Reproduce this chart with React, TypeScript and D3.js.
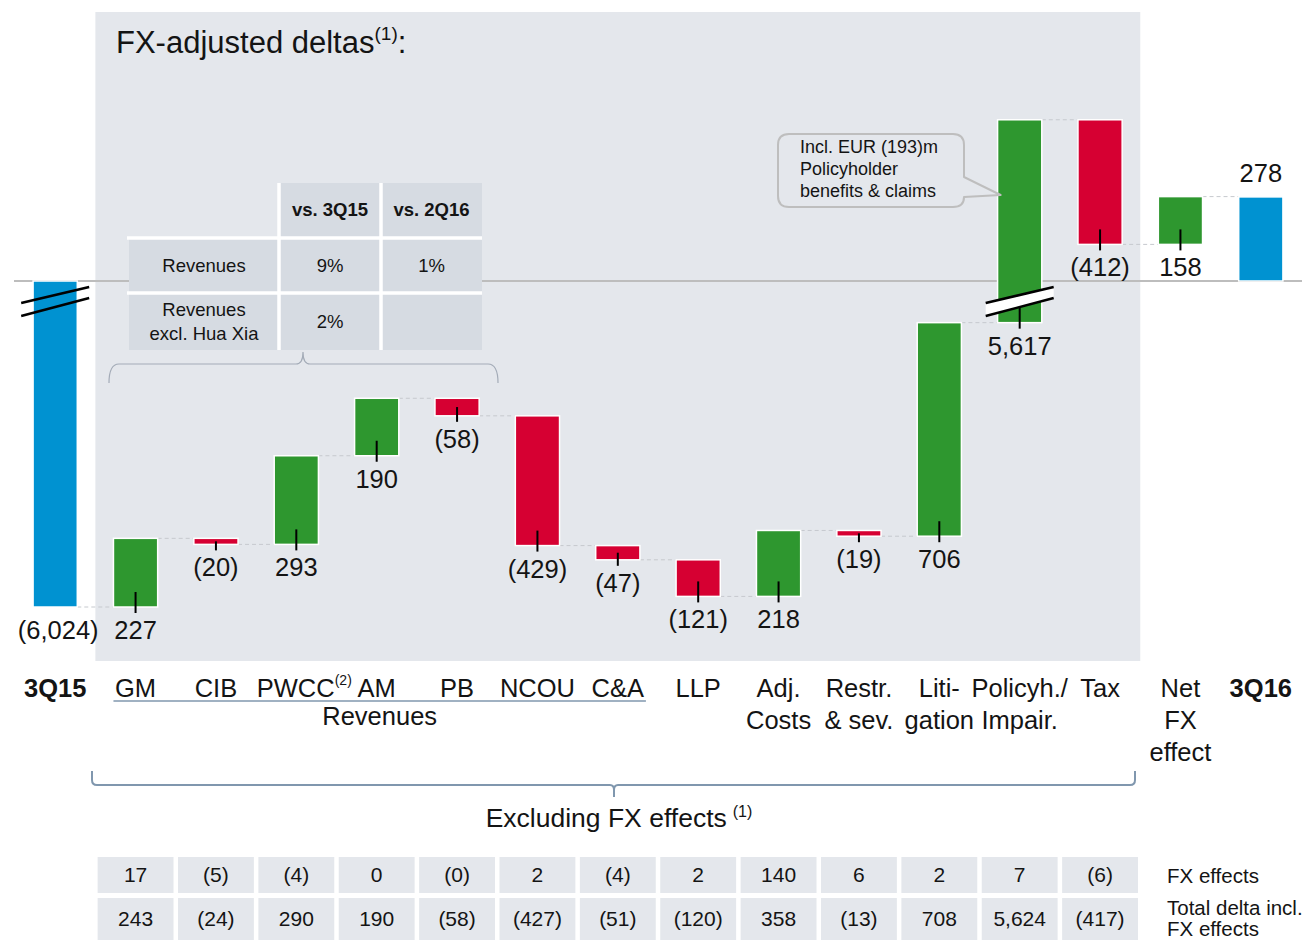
import React from "react";
import * as d3 from "d3";

// ---------- data ----------
const categories = [
  "3Q15", "GM", "CIB", "PWCC", "AM", "PB", "NCOU", "C&A", "LLP",
  "Adj. Costs", "Restr. & sev.", "Litigation", "Policyh./Impair.", "Tax", "Net FX effect", "3Q16",
];
const categoryLines: string[][] = [
  ["3Q15"], ["GM"], ["CIB"], ["PWCC"], ["AM"], ["PB"], ["NCOU"], ["C&A"], ["LLP"],
  ["Adj.", "Costs"], ["Restr.", "& sev."], ["Liti-", "gation"], ["Policyh./", "Impair."], ["Tax"],
  ["Net", "FX", "effect"], ["3Q16"],
];
const boldCategories = ["3Q15", "3Q16"];
const startValue = -6024;
const endValue = 278;
const deltas = [227, -20, 293, 190, -58, -429, -47, -121, 218, -19, 706, 5617, -412, 158];
const brokenBars = ["3Q15", "Policyh./Impair."];
const revenueCategories = ["GM", "CIB", "PWCC", "AM", "PB", "NCOU", "C&A"];

const fxEffects = [17, -5, -4, 0, -0, 2, -4, 2, 140, 6, 2, 7, -6];
const totalDeltas = [243, -24, 290, 190, -58, -427, -51, -120, 358, -13, 708, 5624, -417];
const bottomRowLabels = [["FX effects"], ["Total delta incl.", "FX effects"]];

const revHeader = ["vs. 3Q15", "vs. 2Q16"];
const revRowLabels = [["Revenues"], ["Revenues", "excl. Hua Xia"]];
const revRowValues = [["9%", "1%"], ["2%", ""]];
const calloutLines = ["Incl. EUR (193)m", "Policyholder", "benefits & claims"];

// ---------- style ----------
const FONT = "'Liberation Sans', Arial, Helvetica, sans-serif";
const C_BLUE = "#0092D1";
const C_GREEN = "#2E972F";
const C_RED = "#D60032";
const C_PANEL = "#E4E7EC";
const C_CELL = "#D6DBE2";
const C_TEXT = "#141414";
const C_SLATE = "#8097AE";

const fmt = (v: number) => {
  const s = d3.format(",")(Math.abs(v));
  return v < 0 || Object.is(v, -0) ? `(${s})` : s;
};

type Step = { cat: string; from: number; to: number; kind: "total" | "up" | "down" };

export default function App() {
  const W = 1310;
  const H = 941;

  const x = d3.scalePoint<string>().domain(categories).range([15, 1301]).padding(0.5);
  const step = x.step();
  const barW = step * 0.55;

  const k = 0.3025; // px per EUR m
  const zeroY = 281;
  const yUpper = d3.scaleLinear().domain([0, 1000]).range([zeroY, zeroY - 1000 * k]);
  const yLower = d3.scaleLinear().domain([startValue, startValue + 1000]).range([607, 607 - 1000 * k]);
  const y = (v: number) => (v < -3000 ? yLower(v) : yUpper(v));

  const steps: Step[] = [];
  let cum = startValue;
  steps.push({ cat: categories[0], from: 0, to: startValue, kind: "total" });
  deltas.forEach((d, i) => {
    steps.push({ cat: categories[i + 1], from: cum, to: cum + d, kind: d >= 0 ? "up" : "down" });
    cum += d;
  });
  steps.push({ cat: categories[categories.length - 1], from: 0, to: endValue, kind: "total" });

  const colorOf = (s: Step) => (s.kind === "total" ? C_BLUE : s.kind === "up" ? C_GREEN : C_RED);

  const panelX0 = (x("GM") as number) - step / 2;
  const panelX1 = (x("Tax") as number) + step / 2;

  // table layout (revenues)
  const tX = [129, 279, 381, 482];
  const tY = [183, 238, 293, 350];

  // bottom table
  const bCats = categories.slice(1, 14);
  const cellW = step - 4.5;
  const bRows = [
    { y0: 857, y1: 893, vals: fxEffects },
    { y0: 898, y1: 940, vals: totalDeltas },
  ];

  const revStart = (x(revenueCategories[0]) as number) - barW / 2;
  const revEnd = (x(revenueCategories[revenueCategories.length - 1]) as number) + barW / 2 + 6;
  const revMid = (revStart + revEnd) / 2;

  // callout geometry
  const pol = x("Policyh./Impair.") as number;
  const cb = { x0: 778, y0: 134, x1: 964, y1: 207, r: 11 };
  const tip = { x: pol - barW / 2 + 3, y: 195 };
  const calloutPath = [
    `M${cb.x0 + cb.r},${cb.y0}`,
    `L${cb.x1 - cb.r},${cb.y0}`,
    `Q${cb.x1},${cb.y0} ${cb.x1},${cb.y0 + cb.r}`,
    `L${cb.x1},177`,
    `L${tip.x},${tip.y}`,
    `L${cb.x1},197`,
    `L${cb.x1},${cb.y1 - cb.r + 1}`,
    `Q${cb.x1},${cb.y1} ${cb.x1 - cb.r},${cb.y1}`,
    `L${cb.x0 + cb.r},${cb.y1}`,
    `Q${cb.x0},${cb.y1} ${cb.x0},${cb.y1 - cb.r}`,
    `L${cb.x0},${cb.y0 + cb.r}`,
    `Q${cb.x0},${cb.y0} ${cb.x0 + cb.r},${cb.y0}`,
    "Z",
  ].join(" ");

  const bx0 = 92, bx1 = 1135, bMid = 614, bY = 785;
  const bigBracket = `M${bx0},771 L${bx0},${bY - 5} Q${bx0},${bY} ${bx0 + 5},${bY} L${bMid - 4},${bY} Q${bMid},${bY} ${bMid},${bY + 5} L${bMid},797 M${bMid},${bY + 5} Q${bMid},${bY} ${bMid + 4},${bY} L${bx1 - 5},${bY} Q${bx1},${bY} ${bx1},${bY - 5} L${bx1},771`;
  const smallBracket = `M109,383 Q109,364 119,364 L296,364 Q303,364 303,352 Q303,364 310,364 L488,364 Q498,364 498,383`;

  return (
    <svg
      width={W}
      height={H}
      viewBox={`0 0 ${W} ${H}`}
      style={{ position: "absolute", left: 0, top: 0, display: "block", background: "#fff" }}
      fontFamily={FONT}
    >
      {/* panel */}
      <rect x={panelX0} y={12} width={panelX1 - panelX0} height={649} fill={C_PANEL} />

      {/* title */}
      <text x={116} y={53} fontSize={31} fill={C_TEXT}>
        FX-adjusted deltas
        <tspan fontSize={19} dy={-13}>(1)</tspan>
        <tspan fontSize={31} dy={13}>:</tspan>
      </text>

      {/* zero line */}
      <line x1={14} x2={1302} y1={zeroY} y2={zeroY} stroke="#BDBDBD" strokeWidth={2} />

      {/* revenues table */}
      <g>
        {[0, 1, 2].map((r) =>
          [0, 1, 2].map((c) =>
            r === 0 && c === 0 ? null : (
              <rect
                key={`c${r}${c}`}
                x={tX[c]}
                y={tY[r]}
                width={tX[c + 1] - tX[c]}
                height={tY[r + 1] - tY[r]}
                fill={C_CELL}
              />
            )
          )
        )}
        <line x1={127} x2={tX[3]} y1={tY[1]} y2={tY[1]} stroke="#fff" strokeWidth={3.5} />
        <line x1={127} x2={tX[3]} y1={tY[2]} y2={tY[2]} stroke="#fff" strokeWidth={3.5} />
        <line x1={tX[1]} x2={tX[1]} y1={tY[0]} y2={tY[3]} stroke="#fff" strokeWidth={3.5} />
        <line x1={tX[2]} x2={tX[2]} y1={tY[0]} y2={tY[3]} stroke="#fff" strokeWidth={3.5} />
        {revHeader.map((h, i) => (
          <text key={h} x={(tX[i + 1] + tX[i + 2]) / 2} y={216} textAnchor="middle" fontSize={18.5} fontWeight="bold" fill={C_TEXT}>
            {h}
          </text>
        ))}
        {revRowLabels.map((lines, r) => {
          const cy = (tY[r + 1] + tY[r + 2]) / 2;
          return (
            <g key={`rl${r}`}>
              {lines.map((l, j) => (
                <text
                  key={l}
                  x={(tX[0] + tX[1]) / 2}
                  y={cy + 6 + (j - (lines.length - 1) / 2) * 24}
                  textAnchor="middle"
                  fontSize={18.5}
                  fill={C_TEXT}
                >
                  {l}
                </text>
              ))}
              {revRowValues[r].map((v, c) => (
                <text key={`v${c}`} x={(tX[c + 1] + tX[c + 2]) / 2} y={cy + 6} textAnchor="middle" fontSize={18.5} fill={C_TEXT}>
                  {v}
                </text>
              ))}
            </g>
          );
        })}
        <path d={smallBracket} fill="none" stroke="#A3ABB7" strokeWidth={1.2} />
      </g>

      {/* connectors */}
      {steps.slice(0, -1).map((s, i) => {
        const xa = (x(s.cat) as number) + barW / 2;
        const xb = (x(steps[i + 1].cat) as number) - barW / 2;
        const yy = y(s.to);
        return (
          <line key={`con${i}`} x1={xa} x2={xb} y1={yy} y2={yy} stroke="#C6C9CE" strokeWidth={1} strokeDasharray="4 3" />
        );
      })}

      {/* bars */}
      {steps.map((s) => {
        const cx = x(s.cat) as number;
        const ya = y(s.from);
        const yb = y(s.to);
        return (
          <rect
            key={`bar-${s.cat}`}
            x={cx - barW / 2}
            y={Math.min(ya, yb)}
            width={barW}
            height={Math.abs(yb - ya)}
            fill={colorOf(s)}
            stroke="#fff"
            strokeWidth={1.5}
          />
        );
      })}

      {/* axis breaks */}
      {brokenBars.map((cat, i) => {
        const cx = x(cat) as number;
        const xl = cx - 34;
        const xr = cx + 34;
        const y0 = y(0);
        return (
          <g key={`brk${cat}`}>
            {i === 1 && (
              <polygon
                points={`${xl},${y0 + 22} ${xr},${y0 + 6} ${xr},${y0 + 17} ${xl},${y0 + 35}`}
                fill="#fff"
              />
            )}
            <line x1={xl} y1={y0 + 22} x2={xr} y2={y0 + 6} stroke="#000" strokeWidth={2.5} />
            <line x1={xl} y1={y0 + 35} x2={xr} y2={y0 + 17} stroke="#000" strokeWidth={2.5} />
          </g>
        );
      })}

      {/* value ticks and labels */}
      {steps.map((s, i) => {
        const cx = x(s.cat) as number;
        const ya = y(s.from);
        const yb = y(s.to);
        const top = Math.min(ya, yb);
        const lower = Math.max(ya, yb);
        const value = s.kind === "total" ? s.to : s.to - s.from;
        if (i === steps.length - 1) {
          return (
            <text key={`lab${i}`} x={cx} y={top - 15} textAnchor="middle" fontSize={25.5} fill={C_TEXT}>
              {fmt(value)}
            </text>
          );
        }
        return (
          <g key={`lab${i}`}>
            {s.kind !== "total" && (
              <line
                x1={cx}
                x2={cx}
                y1={Math.max(lower - 15, (top + lower) / 2)}
                y2={lower + 6}
                stroke="#000"
                strokeWidth={2}
              />
            )}
            <text x={cx + (s.kind === "total" ? 3 : 0)} y={lower + 32} textAnchor="middle" fontSize={25.5} fill={C_TEXT}>
              {fmt(value)}
            </text>
          </g>
        );
      })}

      {/* callout */}
      <path d={calloutPath} fill={C_PANEL} stroke="#BEBEBE" strokeWidth={2} strokeLinejoin="round" />
      {calloutLines.map((l, j) => (
        <text key={l} x={800} y={153 + j * 22} fontSize={18} fill={C_TEXT}>
          {l}
        </text>
      ))}

      {/* category labels */}
      {categories.map((c, i) => {
        const cx = x(c) as number;
        const lines = categoryLines[i];
        const bold = boldCategories.includes(c);
        return (
          <g key={`cat${c}`}>
            {lines.map((l, j) => (
              <text
                key={l}
                x={c === "PWCC" ? cx + 8 : cx}
                y={697 + j * 32}
                textAnchor="middle"
                fontSize={25.5}
                fontWeight={bold ? "bold" : "normal"}
                fill={C_TEXT}
              >
                {l}
                {c === "PWCC" && (
                  <tspan fontSize={14} dy={-12}>
                    (2)
                  </tspan>
                )}
              </text>
            ))}
          </g>
        );
      })}

      {/* revenues underline */}
      <line x1={revStart} x2={revEnd} y1={701} y2={701} stroke={C_SLATE} strokeWidth={1.5} />
      <text x={revMid} y={725} textAnchor="middle" fontSize={25.5} fill={C_TEXT}>
        Revenues
      </text>

      {/* excluding FX bracket */}
      <path d={bigBracket} fill="none" stroke={C_SLATE} strokeWidth={2} />
      <text x={619} y={827} textAnchor="middle" fontSize={26.5} fill={C_TEXT}>
        Excluding FX effects
        <tspan fontSize={16} dx={6} dy={-10}>
          (1)
        </tspan>
      </text>

      {/* bottom table */}
      {bRows.map((row, r) => (
        <g key={`brow${r}`}>
          {bCats.map((c, i) => {
            const cx = x(c) as number;
            return (
              <g key={`bc${r}${c}`}>
                <rect x={cx - cellW / 2} y={row.y0} width={cellW} height={row.y1 - row.y0} fill={C_PANEL} />
                <text x={cx} y={(row.y0 + row.y1) / 2 + 7} textAnchor="middle" fontSize={21} fill={C_TEXT}>
                  {fmt(row.vals[i])}
                </text>
              </g>
            );
          })}
          {bottomRowLabels[r].map((l, j) => (
            <text
              key={`bl${r}${j}`}
              x={1167}
              y={r === 0 ? 883 : 915 + j * 21}
              fontSize={20.5}
              fill={C_TEXT}
            >
              {l}
            </text>
          ))}
        </g>
      ))}
    </svg>
  );
}
